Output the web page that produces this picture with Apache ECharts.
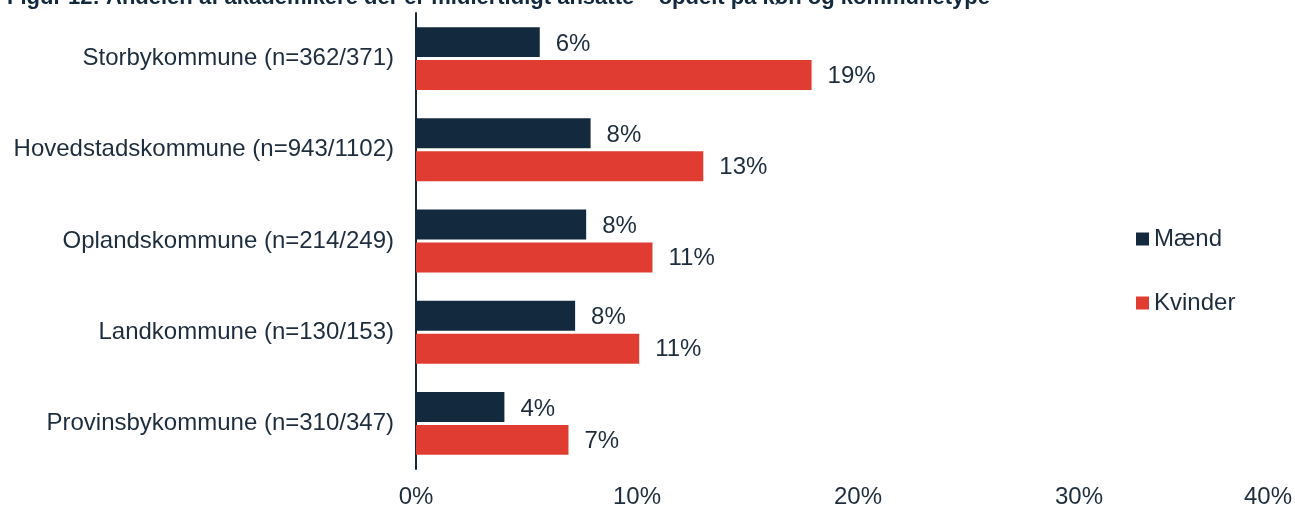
<!DOCTYPE html>
<html><head><meta charset="utf-8">
<script src="https://cdn.jsdelivr.net/npm/echarts@6/dist/echarts.min.js"></script>
<style>html,body{margin:0;padding:0;background:#fff}#c{width:1295px;height:507px}</style>
</head><body><div id="c"></div>
<script>
const titleText = 'Figur 12: Andelen af akademikere der er midlertidigt ansatte – opdelt på køn og kommunetype';
const categories = ['Storbykommune (n=362/371)','Hovedstadskommune (n=943/1102)','Oplandskommune (n=214/249)','Landkommune (n=130/153)','Provinsbykommune (n=310/347)'];
const seriesNames = ['Mænd','Kvinder'];
const maendValues = [5.6, 7.9, 7.7, 7.2, 4.0];
const kvinderValues = [17.9, 13.0, 10.7, 10.1, 6.9];
const maendLabels = ['6%','8%','8%','8%','4%'];
const kvinderLabels = ['19%','13%','11%','11%','7%'];
const xTicks = [0, 10, 20, 30, 40];

const navy = '#13293d', red = '#e03c31', txt = '#1e2d3d';
const font = '"Liberation Sans", Arial, sans-serif';
const chart = echarts.init(document.getElementById('c'));
chart.setOption({
  animation: false,
  textStyle: {fontFamily: font},
  title: {text: titleText, left: 7, top: -13, padding: 0,
    textStyle: {fontSize: 22, fontWeight: 'bold', color: navy, fontFamily: font}},
  legend: {orient: 'vertical', left: 1136, top: 227, padding: 0, itemWidth: 13, itemHeight: 13, itemGap: 40,
    icon: 'rect', textStyle: {fontSize: 24, color: txt}, data: seriesNames},
  grid: {left: 416, top: 13, width: 884, height: 456, containLabel: false, outerBoundsMode: 'none'},
  xAxis: {type: 'value', min: xTicks[0], max: xTicks[xTicks.length-1], interval: 10,
    splitLine: {show: false}, axisLine: {show: false}, axisTick: {show: false},
    axisLabel: {margin: 16, fontSize: 24, color: txt,
      formatter: v => v === 40 ? '{r|' + v + '%}' : v + '%',
      rich: {r: {fontSize: 24, color: txt, padding: [0, 64, 0, 0]}}}},
  yAxis: {type: 'category', inverse: true, data: categories,
    axisLine: {show: true, lineStyle: {color: navy, width: 2}}, axisTick: {show: false},
    axisLabel: {margin: 22, fontSize: 24, color: txt}},
  series: [
    {name: seriesNames[0], type: 'bar', data: maendValues, barGap: '10%', barCategoryGap: '31%',
      itemStyle: {color: navy},
      label: {show: true, position: 'right', distance: 16, fontSize: 24, color: txt, offset: [0, 2],
        formatter: p => maendLabels[p.dataIndex]}},
    {name: seriesNames[1], type: 'bar', data: kvinderValues, barGap: '10%', barCategoryGap: '31%',
      itemStyle: {color: red},
      label: {show: true, position: 'right', distance: 16, fontSize: 24, color: txt, offset: [0, 1],
        formatter: p => kvinderLabels[p.dataIndex]}}
  ]
});
</script></body></html>
